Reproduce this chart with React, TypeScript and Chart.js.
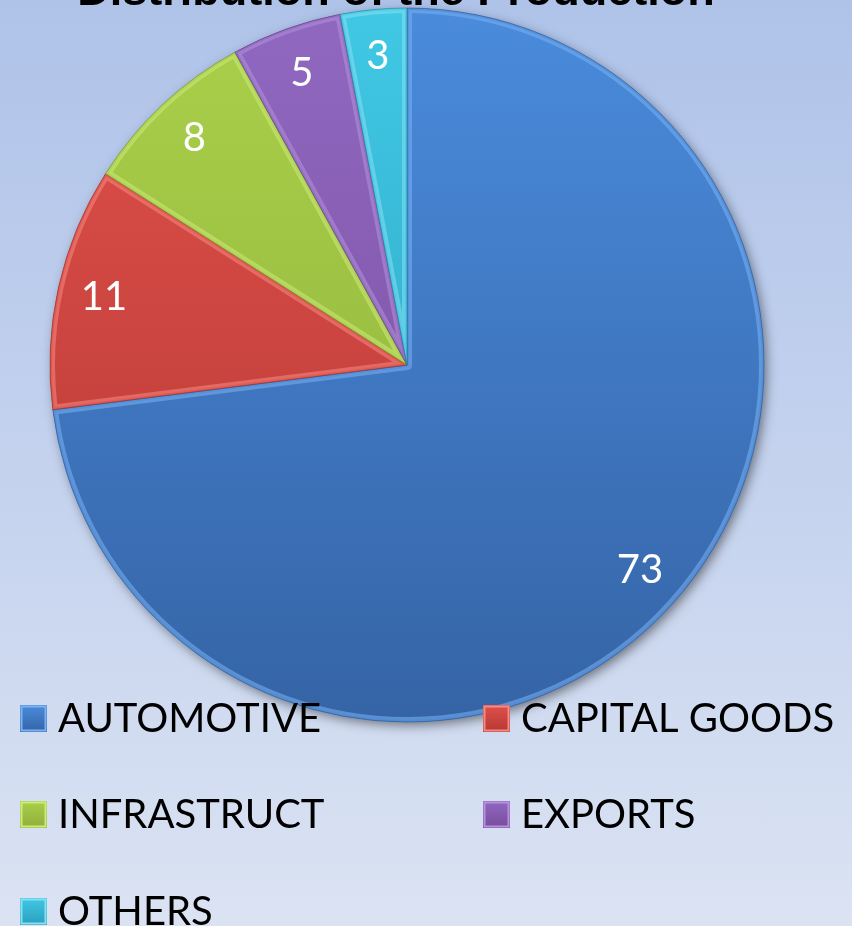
import React, { useEffect, useRef } from "react";
import { Chart, registerables } from "chart.js";

Chart.register(...registerables);

const TITLE = "Distribution of the Production";
const categories = ["AUTOMOTIVE", "CAPITAL GOODS", "INFRASTRUCT", "EXPORTS", "OTHERS"];
const values = [73, 11, 8, 5, 3];
const topColors = ["#4a8bdc", "#e0504a", "#a9d04a", "#9068c0", "#40c8e4"];
const bottomColors = ["#3564a6", "#b53834", "#8eae3a", "#774c9c", "#2a9fbe"];
const edgeColors = ["#7ab2f2", "#f58a82", "#cdea7a", "#b592dc", "#86e0f2"];
const lineColors = ["#2c548c", "#8a2a27", "#6a8a2a", "#5a3a7a", "#1f7f99"];

export default function App() {
  const ref = useRef<HTMLCanvasElement | null>(null);

  useEffect(() => {
    const canvas = ref.current;
    if (!canvas) return;
    const ctx0 = canvas.getContext("2d")!;

    const makeGrad = (i: number) => {
      const g = ctx0.createLinearGradient(0, 8, 0, 722);
      g.addColorStop(0, topColors[i]);
      g.addColorStop(1, bottomColors[i]);
      return g;
    };

    const shadowPlugin = {
      id: "pieShadow",
      beforeDatasetsDraw(chart: any) {
        const meta = chart.getDatasetMeta(0);
        const arc = meta.data[0];
        if (!arc) return;
        const { x, y, outerRadius } = arc.getProps(["x", "y", "outerRadius"], true);
        const ctx = chart.ctx;
        ctx.save();
        ctx.shadowColor = "rgba(0,0,0,0.5)";
        ctx.shadowBlur = 12;
        ctx.shadowOffsetX = 3;
        ctx.shadowOffsetY = 4;
        ctx.beginPath();
        ctx.arc(x, y, outerRadius - 1, 0, Math.PI * 2);
        ctx.fillStyle = "#3a6aad";
        ctx.fill();
        ctx.restore();
      },
      afterDatasetsDraw(chart: any) {
        const ctx = chart.ctx;
        const meta = chart.getDatasetMeta(0);
        meta.data.forEach((arc: any, i: number) => {
          const p = arc.getProps(["x", "y", "startAngle", "endAngle", "outerRadius"], true);
          const path = () => {
            ctx.beginPath();
            ctx.moveTo(p.x, p.y);
            ctx.arc(p.x, p.y, p.outerRadius, p.startAngle, p.endAngle);
            ctx.closePath();
          };
          ctx.save();
          path();
          ctx.clip();
          // inner bevel highlight
          path();
          ctx.globalAlpha = 0.55;
          ctx.strokeStyle = edgeColors[i];
          ctx.lineWidth = 10;
          ctx.lineJoin = "round";
          ctx.stroke();
          ctx.globalAlpha = 1;
          path();
          ctx.strokeStyle = topColors[i];
          ctx.lineWidth = 4;
          ctx.globalAlpha = 0.6;
          ctx.stroke();
          ctx.restore();
          ctx.save();
          path();
          ctx.strokeStyle = lineColors[i];
          ctx.globalAlpha = 0.6;
          ctx.lineWidth = 1;
          ctx.stroke();
          ctx.restore();
        });
      },
    };

    const overlayPlugin = {
      id: "overlay",
      afterDraw(chart: any) {
        const ctx = chart.ctx;
        const meta = chart.getDatasetMeta(0);
        ctx.save();
        ctx.fillStyle = "#ffffff";
        ctx.font = "40px Lato";
        ctx.textAlign = "center";
        ctx.textBaseline = "middle";
        meta.data.forEach((arc: any, i: number) => {
          const p = arc.getProps(["x", "y", "startAngle", "endAngle", "outerRadius"], true);
          const mid = (p.startAngle + p.endAngle) / 2;
          const r = p.outerRadius * 0.87;
          ctx.fillText(String(values[i]), p.x + Math.cos(mid) * r, p.y + Math.sin(mid) * r);
        });
        ctx.restore();

        ctx.save();
        ctx.fillStyle = "#000000";
        ctx.font = "bold 45px 'Liberation Sans'";
        ctx.textAlign = "center";
        ctx.textBaseline = "alphabetic";
        ctx.fillText(TITLE, 396, 5);
        ctx.restore();

        ctx.save();
        const colX = [20, 483];
        const rowY = [705, 801, 898];
        const size = 27;
        categories.forEach((name, i) => {
          const cx = colX[i % 2];
          const cy = rowY[Math.floor(i / 2)];
          const g = ctx.createLinearGradient(0, cy, 0, cy + size);
          g.addColorStop(0, topColors[i]);
          g.addColorStop(1, bottomColors[i]);
          ctx.fillStyle = g;
          ctx.fillRect(cx, cy, size, size);
          ctx.strokeStyle = edgeColors[i];
          ctx.lineWidth = 2;
          ctx.strokeRect(cx + 1.5, cy + 1.5, size - 3, size - 3);
          ctx.fillStyle = "#000000";
          ctx.font = "40px Lato";
          ctx.textAlign = "left";
          ctx.textBaseline = "alphabetic";
          ctx.fillText(name, cx + size + 11, cy + 27);
        });
        ctx.restore();
      },
    };

    const chart = new Chart(canvas, {
      type: "pie",
      data: {
        labels: categories,
        datasets: [
          {
            data: values,
            backgroundColor: values.map((_, i) => makeGrad(i)),
            borderWidth: 0,
            hoverOffset: 0,
          },
        ],
      },
      options: {
        responsive: false,
        animation: false,
        devicePixelRatio: 1,
        layout: { padding: { left: 50, right: 88, top: 8, bottom: 204 } },
        plugins: {
          legend: { display: false },
          title: { display: false },
          tooltip: { enabled: false },
        },
      },
      plugins: [shadowPlugin, overlayPlugin],
    });

    return () => chart.destroy();
  }, []);

  return (
    <div
      style={{
        position: "fixed",
        left: 0,
        top: 0,
        width: 852,
        height: 926,
        background: "linear-gradient(to bottom, #afc3e9 0%, #c4d2ee 50%, #dbe3f3 100%)",
        overflow: "hidden",
      }}
    >
      <canvas ref={ref} width={852} height={926} style={{ width: 852, height: 926, display: "block" }} />
    </div>
  );
}
